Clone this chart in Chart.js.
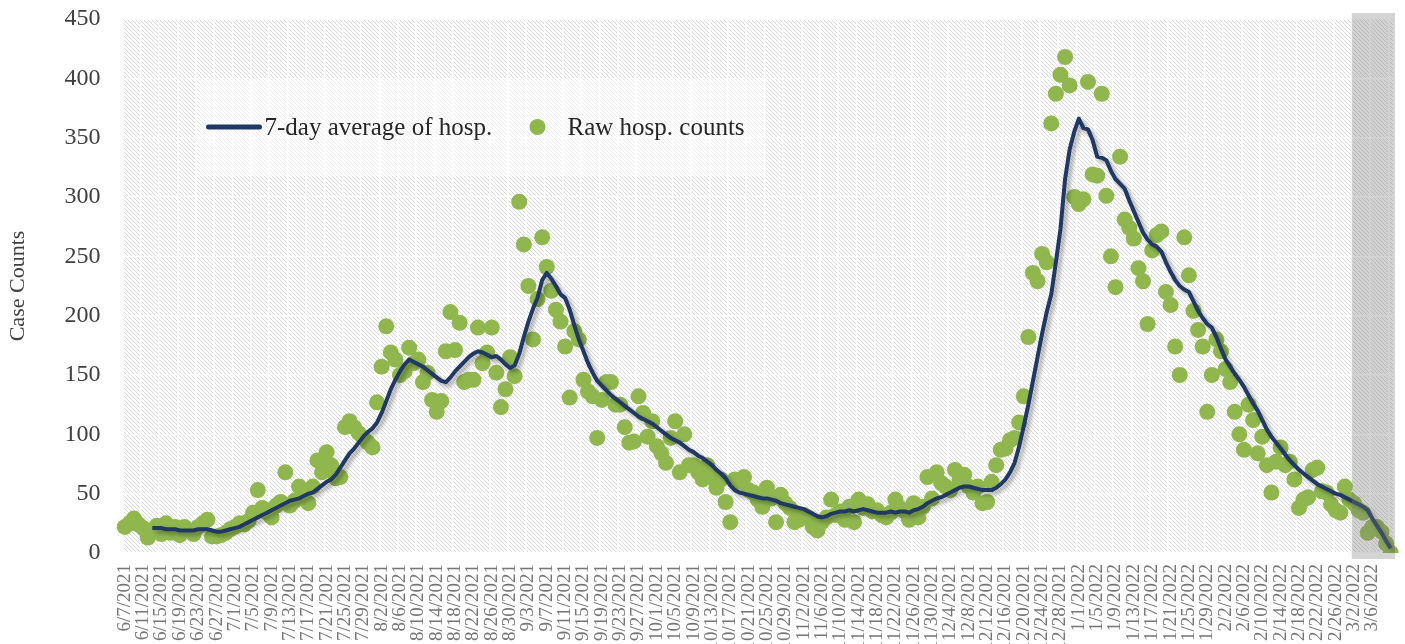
<!DOCTYPE html>
<html><head><meta charset="utf-8">
<script src="https://cdn.jsdelivr.net/npm/chart.js@4.4.1/dist/chart.umd.min.js"></script>
<style>html,body{margin:0;padding:0;background:#fff;overflow:hidden}canvas{display:block}</style>
</head><body>
<canvas id="c" width="1405" height="644"></canvas>
<script>
// ---- categories (daily) ----
const dates = [
"6/7/2021","6/8/2021","6/9/2021","6/10/2021","6/11/2021","6/12/2021","6/13/2021","6/14/2021","6/15/2021","6/16/2021","6/17/2021","6/18/2021","6/19/2021","6/20/2021","6/21/2021","6/22/2021","6/23/2021","6/24/2021","6/25/2021","6/26/2021","6/27/2021","6/28/2021","6/29/2021","6/30/2021",
"7/1/2021","7/2/2021","7/3/2021","7/4/2021","7/5/2021","7/6/2021","7/7/2021","7/8/2021","7/9/2021","7/10/2021","7/11/2021","7/12/2021","7/13/2021","7/14/2021","7/15/2021","7/16/2021","7/17/2021","7/18/2021","7/19/2021","7/20/2021","7/21/2021","7/22/2021","7/23/2021","7/24/2021","7/25/2021","7/26/2021","7/27/2021","7/28/2021","7/29/2021","7/30/2021","7/31/2021",
"8/1/2021","8/2/2021","8/3/2021","8/4/2021","8/5/2021","8/6/2021","8/7/2021","8/8/2021","8/9/2021","8/10/2021","8/11/2021","8/12/2021","8/13/2021","8/14/2021","8/15/2021","8/16/2021","8/17/2021","8/18/2021","8/19/2021","8/20/2021","8/21/2021","8/22/2021","8/23/2021","8/24/2021","8/25/2021","8/26/2021","8/27/2021","8/28/2021","8/29/2021","8/30/2021","8/31/2021",
"9/1/2021","9/2/2021","9/3/2021","9/4/2021","9/5/2021","9/6/2021","9/7/2021","9/8/2021","9/9/2021","9/10/2021","9/11/2021","9/12/2021","9/13/2021","9/14/2021","9/15/2021","9/16/2021","9/17/2021","9/18/2021","9/19/2021","9/20/2021","9/21/2021","9/22/2021","9/23/2021","9/24/2021","9/25/2021","9/26/2021","9/27/2021","9/28/2021","9/29/2021","9/30/2021",
"10/1/2021","10/2/2021","10/3/2021","10/4/2021","10/5/2021","10/6/2021","10/7/2021","10/8/2021","10/9/2021","10/10/2021","10/11/2021","10/12/2021","10/13/2021","10/14/2021","10/15/2021","10/16/2021","10/17/2021","10/18/2021","10/19/2021","10/20/2021","10/21/2021","10/22/2021","10/23/2021","10/24/2021","10/25/2021","10/26/2021","10/27/2021","10/28/2021","10/29/2021","10/30/2021","10/31/2021",
"11/1/2021","11/2/2021","11/3/2021","11/4/2021","11/5/2021","11/6/2021","11/7/2021","11/8/2021","11/9/2021","11/10/2021","11/11/2021","11/12/2021","11/13/2021","11/14/2021","11/15/2021","11/16/2021","11/17/2021","11/18/2021","11/19/2021","11/20/2021","11/21/2021","11/22/2021","11/23/2021","11/24/2021","11/25/2021","11/26/2021","11/27/2021","11/28/2021","11/29/2021","11/30/2021",
"12/1/2021","12/2/2021","12/3/2021","12/4/2021","12/5/2021","12/6/2021","12/7/2021","12/8/2021","12/9/2021","12/10/2021","12/11/2021","12/12/2021","12/13/2021","12/14/2021","12/15/2021","12/16/2021","12/17/2021","12/18/2021","12/19/2021","12/20/2021","12/21/2021","12/22/2021","12/23/2021","12/24/2021","12/25/2021","12/26/2021","12/27/2021","12/28/2021","12/29/2021","12/30/2021","12/31/2021",
"1/1/2022","1/2/2022","1/3/2022","1/4/2022","1/5/2022","1/6/2022","1/7/2022","1/8/2022","1/9/2022","1/10/2022","1/11/2022","1/12/2022","1/13/2022","1/14/2022","1/15/2022","1/16/2022","1/17/2022","1/18/2022","1/19/2022","1/20/2022","1/21/2022","1/22/2022","1/23/2022","1/24/2022","1/25/2022","1/26/2022","1/27/2022","1/28/2022","1/29/2022","1/30/2022","1/31/2022",
"2/1/2022","2/2/2022","2/3/2022","2/4/2022","2/5/2022","2/6/2022","2/7/2022","2/8/2022","2/9/2022","2/10/2022","2/11/2022","2/12/2022","2/13/2022","2/14/2022","2/15/2022","2/16/2022","2/17/2022","2/18/2022","2/19/2022","2/20/2022","2/21/2022","2/22/2022","2/23/2022","2/24/2022","2/25/2022","2/26/2022","2/27/2022","2/28/2022",
"3/1/2022","3/2/2022","3/3/2022","3/4/2022","3/5/2022","3/6/2022","3/7/2022","3/8/2022","3/9/2022","3/10/2022"
];

// ---- raw daily hospitalization counts ----
const rawCounts = [
22,25,29,24,21,13,19,23,16,25,
17,22,15,22,19,16,22,25,28,14,
14,15,17,20,22,25,24,27,34,53,
38,34,30,40,43,68,40,44,56,47,
42,56,78,68,85,74,63,64,106,111,
106,101,97,93,89,127,157,191,169,163,
150,153,173,160,163,144,152,129,119,128,
170,203,171,194,144,146,146,190,160,169,
190,152,123,138,165,149,296,260,225,180,
214,266,241,221,205,195,174,131,187,180,
146,136,132,97,129,144,144,125,125,106,
93,94,132,118,98,111,90,84,76,97,
111,68,100,74,74,68,62,74,64,55,
62,43,26,62,60,64,53,51,45,39,
55,46,26,49,42,38,26,28,32,30,
22,19,26,30,45,32,35,28,39,26,
45,38,41,35,36,32,30,34,45,38,
35,28,42,30,39,64,46,68,59,56,
53,70,62,66,56,51,56,42,43,60,
74,87,88,95,97,110,132,182,236,229,
252,245,362,387,403,418,394,300,294,298,
397,319,318,387,301,250,224,334,281,274,
265,240,229,193,255,268,271,220,209,174,
150,266,234,204,188,174,119,150,180,170,
155,144,119,100,87,125,112,84,98,74,
51,77,89,74,77,62,38,45,47,70,
72,52,51,41,36,34,56,45,42,36,
34,17,22,22,18,8,0
];

// ---- 7-day average ----
const avg7 = [
null,null,null,null,null,null,21,21,21,20,
20,20,19,19,19,19,20,20,20,19,
18,18,19,20,21,22,24,26,28,30,
32,34,36,38,40,42,44,45,46,48,
50,51,54,57,60,62,66,72,78,84,
88,93,98,102,105,110,118,128,138,146,
153,159,163,161,159,157,154,151,148,145,
144,148,153,157,161,165,168,170,169,167,
165,166,163,159,156,158,168,182,195,206,
215,230,236,231,225,218,215,205,192,180,
170,160,152,145,141,137,133,130,127,124,
121,118,115,113,111,109,106,103,100,97,
95,93,90,87,85,82,80,77,74,70,
67,63,57,53,51,50,49,48,47,46,
46,45,44,42,41,40,39,38,37,35,
33,31,30,31,33,34,35,35,36,35,
36,37,36,35,34,34,34,35,34,35,
35,34,36,37,39,42,44,46,47,49,
51,53,55,56,56,55,54,53,53,53,
55,58,62,68,76,90,107,125,145,165,
185,203,218,245,273,315,340,355,366,358,
357,348,334,333,331,322,315,311,307,297,
288,279,270,264,260,258,254,245,237,230,
225,222,220,212,204,198,193,190,182,172,
163,157,151,146,140,133,126,120,112,104,
98,93,88,83,78,74,70,67,64,61,
58,56,54,52,50,49,47,45,43,41,
39,36,29,23,17,10,4
];

const yTickValues = [0,50,100,150,200,250,300,350,400,450];
const seriesNames = ["7-day average of hosp.", "Raw hosp. counts"];
const axisTitle = "Case Counts";
const shadeFrom = "3/2/2022";
const lastLabelled = "3/6/2022";

const FONT = "'Liberation Serif','Times New Roman',serif";
const NAVY = '#1f3864';
const GREEN = '#8fb74e';

function makeHatch(){
  const s = 4, c = document.createElement('canvas');
  c.width = s; c.height = s;
  const g = c.getContext('2d');
  g.fillStyle = '#fdfdfd'; g.fillRect(0,0,s,s);
  g.strokeStyle = '#d9d9d9'; g.lineWidth = 1.0;
  g.beginPath();
  g.moveTo(-1,-1); g.lineTo(s+1,s+1);
  g.moveTo(-1,s-1); g.lineTo(1,s+1);
  g.moveTo(s-1,-1); g.lineTo(s+1,1);
  g.stroke();
  return c;
}
const hatch = makeHatch();

const decor = {
  id: 'decor',
  beforeDraw(chart){
    const {ctx, chartArea:a} = chart;
    ctx.save();
    ctx.fillStyle = ctx.createPattern(hatch, 'repeat');
    ctx.fillRect(a.left, a.top, a.right-a.left, a.bottom-a.top);
    ctx.restore();
  },
  beforeDatasetsDraw(chart){
    const {ctx, chartArea:a} = chart;
    const bx = a.left + 73, by = a.top + 61;
    ctx.save();
    ctx.fillStyle = 'rgba(255,255,255,0.55)';
    ctx.fillRect(bx, by, 570, 96);
    const cy = by + 47;
    ctx.strokeStyle = NAVY; ctx.lineWidth = 5; ctx.lineCap = 'round';
    ctx.beginPath(); ctx.moveTo(bx+13, cy); ctx.lineTo(bx+64, cy); ctx.stroke();
    ctx.fillStyle = '#262626';
    ctx.font = "25px " + FONT;
    ctx.textBaseline = 'middle';
    ctx.fillText(seriesNames[0], bx+69, cy+1);
    ctx.fillStyle = GREEN;
    ctx.beginPath(); ctx.arc(bx+342, cy, 8, 0, Math.PI*2); ctx.fill();
    ctx.fillStyle = '#262626';
    ctx.fillText(seriesNames[1], bx+372, cy+1);
    ctx.restore();
  },
  beforeDatasetDraw(chart, args){
    if (args.index === 0){
      const ctx = chart.ctx;
      ctx.save();
      ctx.shadowColor = 'rgba(0,0,0,0.35)';
      ctx.shadowBlur = 4; ctx.shadowOffsetX = 3; ctx.shadowOffsetY = 3;
    }
  },
  afterDatasetDraw(chart, args){
    if (args.index === 0) chart.ctx.restore();
  },
  afterDatasetsDraw(chart){
    const {ctx, chartArea:a, scales:{x}} = chart;
    const i = dates.indexOf(shadeFrom);
    const w = x.getPixelForValue(1) - x.getPixelForValue(0);
    const x0 = x.getPixelForValue(i) - w/2;
    ctx.save();
    ctx.fillStyle = 'rgba(120,120,120,0.32)';
    ctx.fillRect(x0, a.top-6, a.right + 2 - x0, a.bottom - a.top + 12);
    ctx.restore();
  }
};

const lastIdx = dates.indexOf(lastLabelled);

new Chart(document.getElementById('c'), {
  type: 'line',
  data: {
    labels: dates,
    datasets: [
      { label: seriesNames[0], data: avg7, borderColor: NAVY, borderWidth: 4,
        pointRadius: 0, tension: 0, order: 0, spanGaps: false, borderJoinStyle: 'round' },
      { label: seriesNames[1], data: rawCounts, showLine: false, pointRadius: 8,
        pointBackgroundColor: GREEN, pointBorderWidth: 0, pointBorderColor: GREEN, order: 1 }
    ]
  },
  options: {
    responsive: false, animation: false, devicePixelRatio: 1, events: [],
    layout: { padding: { top: 19, right: 12, left: 0, bottom: 0 } },
    plugins: { legend: { display: false }, tooltip: { enabled: false } },
    scales: {
      x: {
        offset: true,
        grid: { offset: true, drawTicks: false, lineWidth: 1.6,
          color: c => (c.index % 4 === 0 ? 'rgba(255,255,255,0.95)' : 'rgba(0,0,0,0)') },
        border: { display: false },
        ticks: { autoSkip: false, maxRotation: 90, minRotation: 90, padding: 11,
          color: '#767676', font: { family: FONT, size: 19 },
          callback: function(v, i){ return (i % 4 === 0 && i <= lastIdx) ? this.getLabelForValue(v) : ''; } },
        afterFit: s => { s.height = 91; s.paddingLeft = 0; s.paddingRight = 0; }
      },
      y: {
        min: 0, max: 450,
        afterBuildTicks: s => { s.ticks = yTickValues.map(v => ({ value: v })); },
        grid: { drawTicks: false, color: 'rgba(255,255,255,0.95)', lineWidth: 1.6 },
        border: { display: false },
        ticks: { padding: 22, color: '#404040', font: { family: FONT, size: 24 } },
        title: { display: true, text: axisTitle, color: '#404040',
          font: { family: FONT, size: 22 }, padding: { top: 5, bottom: 0 } },
        afterFit: s => { s.width = 122.5; s.paddingTop = 0; s.paddingBottom = 0; }
      }
    }
  },
  plugins: [decor]
});
</script>
</body></html>
